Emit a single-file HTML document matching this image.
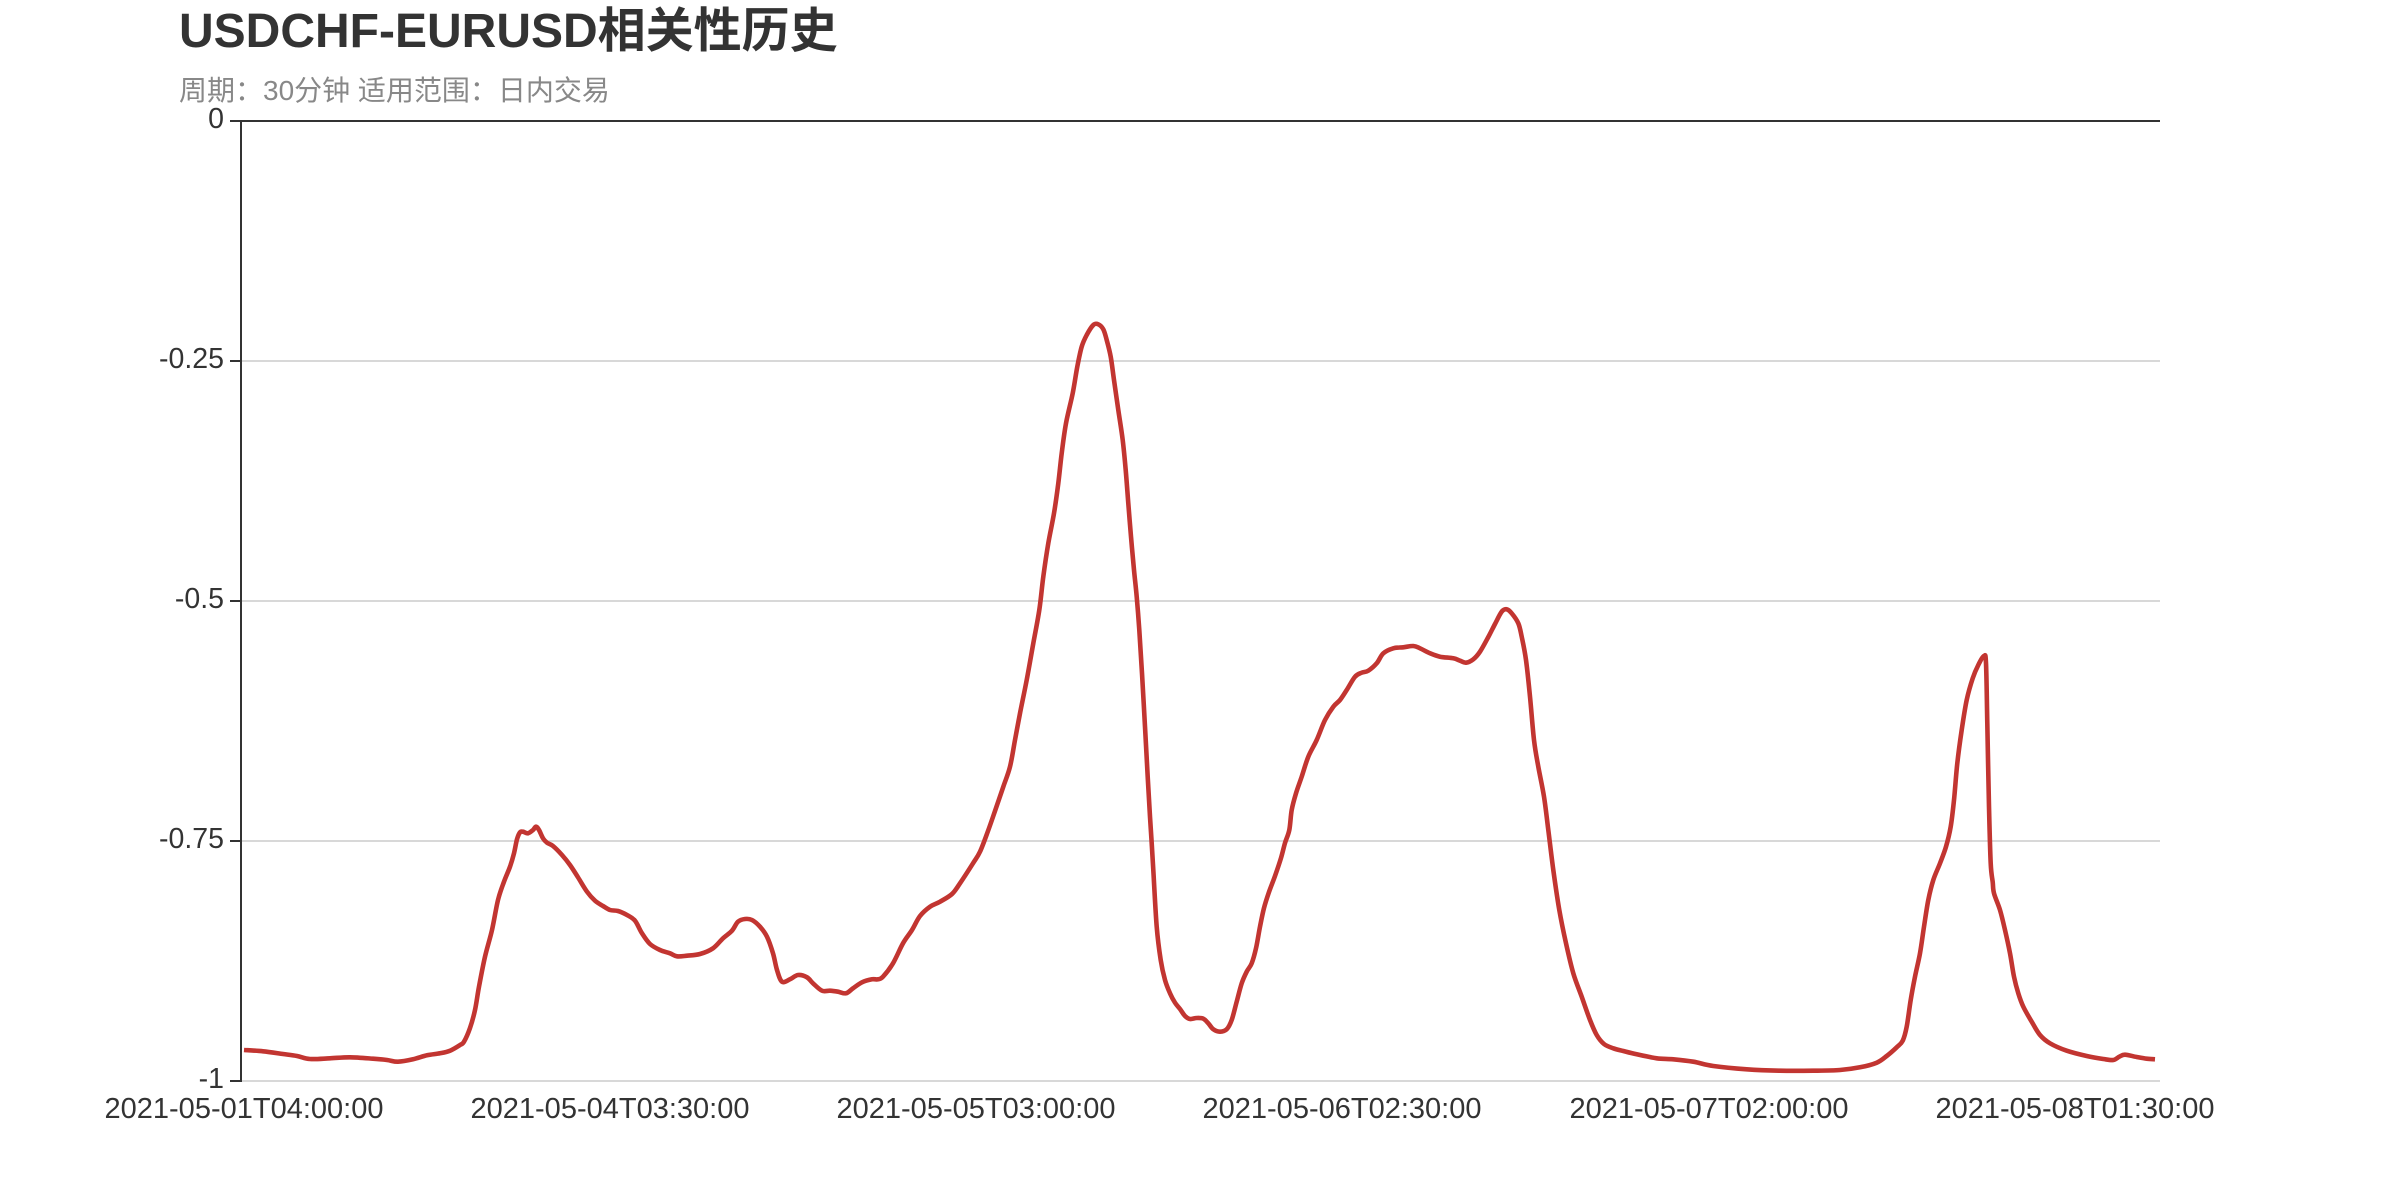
<!DOCTYPE html>
<html>
<head>
<meta charset="utf-8">
<style>
html,body{margin:0;padding:0;background:#fff;}
body{width:2400px;height:1200px;overflow:hidden;}
svg{display:block;}
text{font-family:"Liberation Sans","Noto Sans CJK SC",sans-serif;}
</style>
</head>
<body>
<svg id="chart" width="2400" height="1200" viewBox="0 0 2400 1200" xmlns="http://www.w3.org/2000/svg">
<rect width="2400" height="1200" fill="#fff"/>
<!-- title -->
<text x="179" y="47" font-size="48" font-weight="bold" fill="#333">USDCHF-EURUSD相关性历史</text>
<text x="179" y="100" font-size="28" fill="#888">周期：30分钟 适用范围：日内交易</text>

<!-- grid lines -->
<g stroke="#ccc" stroke-width="1.5">
<line x1="240" y1="361" x2="2160" y2="361"/>
<line x1="240" y1="601" x2="2160" y2="601"/>
<line x1="240" y1="841" x2="2160" y2="841"/>
<line x1="240" y1="1081" x2="2160" y2="1081"/>
</g>
<!-- axes -->
<line x1="240" y1="121" x2="2160" y2="121" stroke="#333" stroke-width="2"/>
<line x1="241" y1="120" x2="241" y2="1082" stroke="#333" stroke-width="2"/>
<g stroke="#333" stroke-width="2">
<line x1="230" y1="121" x2="241" y2="121"/>
<line x1="230" y1="361" x2="241" y2="361"/>
<line x1="230" y1="601" x2="241" y2="601"/>
<line x1="230" y1="841" x2="241" y2="841"/>
<line x1="230" y1="1081" x2="241" y2="1081"/>
</g>
<!-- y labels -->
<g font-size="28.5" fill="#333" text-anchor="end">
<text x="224" y="128">0</text>
<text x="224" y="368">-0.25</text>
<text x="224" y="608">-0.5</text>
<text x="224" y="848">-0.75</text>
<text x="224" y="1088">-1</text>
</g>
<!-- x labels -->
<g font-size="29" fill="#333" text-anchor="middle">
<text x="244" y="1118">2021-05-01T04:00:00</text>
<text x="610" y="1118">2021-05-04T03:30:00</text>
<text x="976" y="1118">2021-05-05T03:00:00</text>
<text x="1342" y="1118">2021-05-06T02:30:00</text>
<text x="1709" y="1118">2021-05-07T02:00:00</text>
<text x="2075" y="1118">2021-05-08T01:30:00</text>
</g>

<!-- series -->
<polyline id="series" fill="none" stroke="#c23531" stroke-width="4.6" stroke-linejoin="round" stroke-linecap="butt" points="
244,1050 263,1051.3 283,1054 297,1056 310,1059 330,1058.3 350,1057.3 373,1058.7 387,1060 398,1061.7
413,1059.3 427,1055.3 440,1053.3 450,1050.7 460,1045 464,1041.7 470,1028 475,1010 479,986.7 485,956.7
492,930 498,900 504,881.7 510,866.7 514,853.3 517,839.3 520,832.3 523,831.7 528,833.3 533,830
536,826.7 539,830 543,838.3 547,842.7 553,846 562,855 570,865 578,877.3 587,891.7 595,900.7
603,906 610,910 618,911 627,915 635,920.7 642,933.3 650,944 660,950 670,953.3 677,956.3
687,955.7 700,954 713,948.3 723,938.3 732,930.7 738,921.7 745,919 752,920 760,926.7 767,936.7
773,953.3 777,970 782,981.7 790,979.3 798,975 807,977.3 813,983.3 822,990.7 830,990.7 838,991.7
846,993.3 853,988.3 862,982.3 872,979.3 878,979.3 883,976.7 893,963.3 903,943.3 912,930 920,916
930,906.7 940,901.7 952,894 960,883.3 973,863.3 980,851.7 988,831 995,811 1003.3,786.7 1010,766.7
1015,740 1020,713.3 1026.7,680 1033.3,643.3 1039.3,610 1043.3,576.7 1048.3,543.3 1054,513.3 1058.3,483.3 1061.7,453.3
1066,423.3 1072.7,393.3 1077.3,366.7 1081.7,346.7 1086.7,335 1093.3,325 1098.3,324.3 1103.3,329.3 1106.7,340 1110.7,356.7
1114,380 1118.3,410 1122.7,440 1125.7,470 1128.3,503.3 1131,536.7 1134,570 1136.7,596.7 1139.3,630 1142,673.3
1145,726.7 1147.7,776.7 1150,816.7 1151.5,840 1153.3,870 1156.7,926.7 1160.7,960 1165,980 1170,993.3 1175,1002.7
1180,1009 1185,1016 1190,1019 1196.7,1018 1203.3,1018.7 1208.3,1023.3 1213.3,1029.3 1220,1031.7 1226.7,1029.3 1231.7,1020
1236.7,1001.7 1241.7,983.3 1246.7,971.7 1251.7,963.3 1256,948.3 1260,926.7 1264,908 1269,892 1275,876 1281,858
1285,843 1289.3,830 1291.7,810 1296,793.3 1301.7,776.7 1308.3,756.7 1316.7,740 1325,720 1333.3,706.7 1340,700
1346.7,690 1355,676.7 1361.7,672.7 1368.3,670.7 1376.7,663.3 1383.3,653.3 1393.3,648.3 1403.3,647.3 1413.3,646 1420,648.3
1430,653.3 1440,656.7 1453.3,658.3 1460,660.7 1466,662.7 1473.3,659.3 1480,651.7 1488.3,637 1495,624 1501.7,611.7
1506.7,609.3 1511.7,613.3 1518.3,623.3 1521.7,636.7 1526,660 1530,696.7 1534,740 1538.3,766.7 1544,796.7 1548.3,830
1553.3,870 1559.3,910 1566,943.3 1573.3,973.3 1581.7,996.7 1590,1020 1596.7,1035 1604,1044 1613.3,1048.3 1623.3,1051
1636.7,1054.3 1656.7,1058.3 1673.3,1059.3 1693.3,1061.7 1713.3,1066 1746.7,1069.3 1780,1070.7 1813.3,1070.7 1840,1070 1860,1067.3
1876.7,1062.7 1886.7,1056 1896.7,1047.3 1902.7,1040.7 1906.7,1026.7 1910.7,1000 1915,976.7 1920,953.3 1924,926.7 1928.3,900
1933.3,880 1940,863.3 1946,846.7 1950.7,826.7 1954,800 1957.3,763.3 1961.7,730 1966.7,700 1972.7,678.3 1978.3,665
1984,656 1986,663.3 1987.3,723.3 1989,806.7 1990.7,863.3 1992.7,882 1994,893.3 2000,910 2005,930 2010,953.3
2014,976.7 2018.3,993.3 2023.3,1006.7 2031.7,1021.7 2040,1035 2050,1043.3 2066.7,1050.7 2086.7,1056 2103.3,1059 2113.3,1060
2119.3,1056.7 2125,1054.7 2136.7,1057 2146.7,1058.7 2155,1059.3"/>
</svg>
<script>
(function(){
  try{
    var pl=document.getElementById('series');
    var raw=pl.getAttribute('points').trim().split(/\s+/);
    var p=raw.map(function(s){var a=s.split(',');return [parseFloat(a[0]),parseFloat(a[1])];});
    var t=0.5;
    var d='M'+p[0][0]+','+p[0][1];
    for(var i=0;i<p.length-1;i++){
      var p0=p[i>0?i-1:i],p1=p[i],p2=p[i+1],p3=p[i+2<p.length?i+2:i+1];
      var c1x=p1[0]+(p2[0]-p0[0])/6*t*2, c1y=p1[1]+(p2[1]-p0[1])/6*t*2;
      var c2x=p2[0]-(p3[0]-p1[0])/6*t*2, c2y=p2[1]-(p3[1]-p1[1])/6*t*2;
      d+=' C'+c1x.toFixed(2)+','+c1y.toFixed(2)+' '+c2x.toFixed(2)+','+c2y.toFixed(2)+' '+p2[0]+','+p2[1];
    }
    var path=document.createElementNS('http://www.w3.org/2000/svg','path');
    path.setAttribute('d',d);
    path.setAttribute('fill','none');
    path.setAttribute('stroke','#c23531');
    path.setAttribute('stroke-width','4.6');
    path.setAttribute('stroke-linejoin','round');
    pl.parentNode.replaceChild(path,pl);
  }catch(e){}
})();
</script>
</body>
</html>
